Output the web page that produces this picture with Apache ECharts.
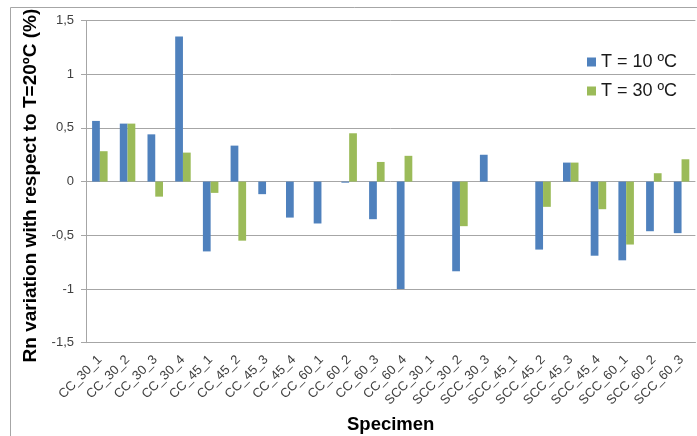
<!DOCTYPE html>
<html>
<head>
<meta charset="utf-8">
<script src="https://cdn.jsdelivr.net/npm/echarts@6/dist/echarts.min.js"></script>
<style>html,body{margin:0;padding:0;background:#fff;}#c{width:697px;height:436px;}</style>
</head>
<body>
<div id="c"></div>
<script>
const categories = ['CC_30_1','CC_30_2','CC_30_3','CC_30_4','CC_45_1','CC_45_2','CC_45_3','CC_45_4','CC_60_1','CC_60_2','CC_60_3','CC_60_4','SCC_30_1','SCC_30_2','SCC_30_3','SCC_45_1','SCC_45_2','SCC_45_3','SCC_45_4','SCC_60_1','SCC_60_2','SCC_60_3'];
const t10 = [0.565, 0.54, 0.44, 1.35, -0.65, 0.335, -0.117, -0.335, -0.39, -0.01, -0.35, -1.0, 0, -0.835, 0.25, 0, -0.633, 0.177, -0.69, -0.733, -0.462, -0.48];
const t30 = [0.283, 0.54, -0.14, 0.27, -0.105, -0.55, 0, 0, 0, 0.45, 0.183, 0.24, 0, -0.415, 0, 0, -0.235, 0.177, -0.257, -0.586, 0.078, 0.208];
const seriesNames = ['T = 10 ºC', 'T = 30 ºC'];

const chart = echarts.init(document.getElementById('c'), null, {renderer: 'canvas'});
const font = '"Liberation Sans", Arial, sans-serif';
chart.setOption({
  animation: false,
  textStyle: {fontFamily: font},
  graphic: [{
    type: 'rect', shape: {x: 10.5, y: 7.5, width: 720, height: 460},
    style: {fill: 'none', stroke: '#a6a6a6', lineWidth: 1}, silent: true, z: -1
  }],
  grid: {left: 86, top: 20.5, right: 1.6, bottom: 93.3, containLabel: false, outerBoundsMode: 'none'},
  legend: {
    orient: 'vertical', left: 587, top: 53, padding: 0, itemWidth: 9, itemHeight: 9, itemGap: 11,
    icon: 'rect',
    textStyle: {fontSize: 18, color: '#1a1a1a', fontFamily: font},
    data: seriesNames
  },
  xAxis: {
    type: 'category', data: categories,
    name: 'Specimen', nameLocation: 'middle', nameGap: 73,
    nameTextStyle: {fontSize: 18.5, fontWeight: 'bold', color: '#000', fontFamily: font},
    axisLine: {onZero: false, lineStyle: {color: '#a6a6a6'}},
    axisTick: {show: false},
    axisLabel: {interval: 0, rotate: 45, fontSize: 13, color: '#404040', margin: 15, fontFamily: font}
  },
  yAxis: {
    type: 'value', min: -1.5, max: 1.5, interval: 0.5,
    name: 'Rn variation with respect to T=20ºC (%)', nameLocation: 'middle', nameGap: 35,
    nameTextStyle: {fontSize: 19, fontWeight: 'bold', color: '#000', fontFamily: font, padding: [0, 8, 0, 0]},
    axisLine: {show: true, lineStyle: {color: '#a6a6a6'}},
    axisTick: {show: true, length: 5, lineStyle: {color: '#a6a6a6'}},
    splitLine: {lineStyle: {color: '#a6a6a6'}},
    axisLabel: {fontSize: 13, color: '#404040', margin: 12, fontFamily: font,
      formatter: v => String(v).replace('.', ',')}
  },
  series: [
    {name: seriesNames[0], type: 'bar', data: t10, barGap: '0%', barCategoryGap: '44%', itemStyle: {color: '#4f81bd'}},
    {name: seriesNames[1], type: 'bar', data: t30, barGap: '0%', barCategoryGap: '44%', itemStyle: {color: '#9bbb59'}}
  ]
});
</script>
</body>
</html>
